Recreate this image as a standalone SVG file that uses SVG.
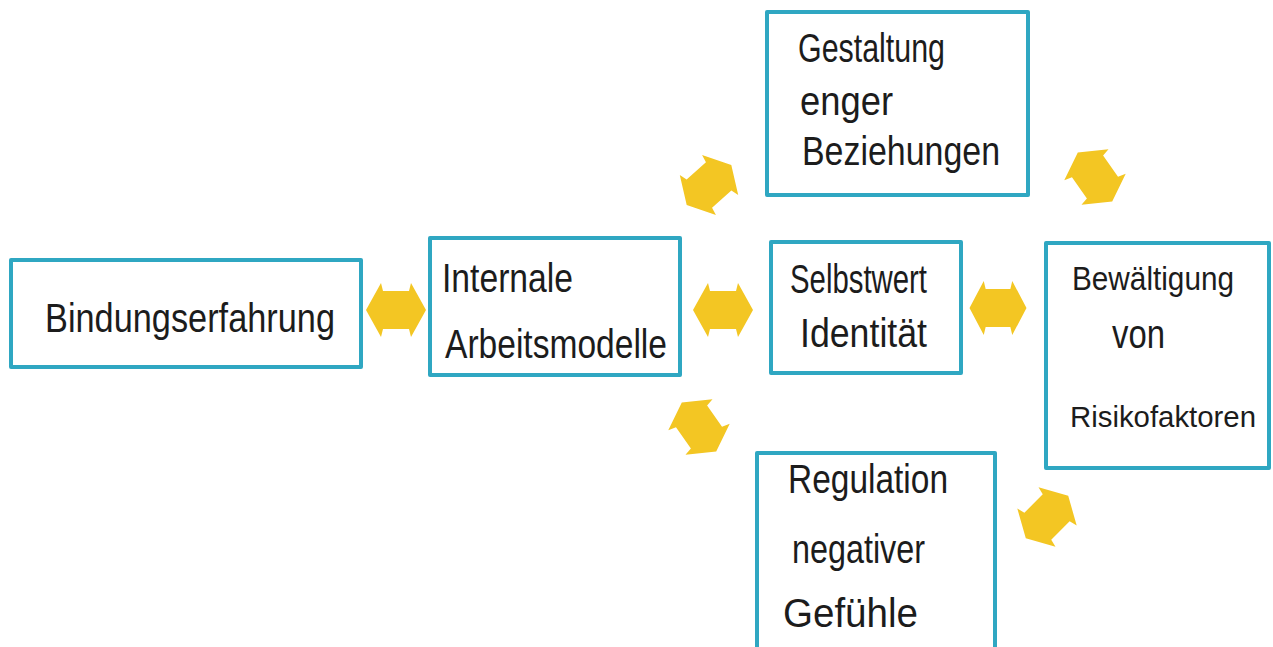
<svg xmlns="http://www.w3.org/2000/svg" width="1273" height="647" viewBox="0 0 1273 647">
<style>
.box{fill:#ffffff;stroke:#2fa7c2;stroke-width:4;stroke-linejoin:round}
.t{font-family:"Liberation Sans",Arial,sans-serif;font-size:40px;fill:#1c1c1c}
.arr{fill:#f3c623}
</style>
<defs>
<path id="dbl" d="M -30,0 L -15,-27 L -13,-19 L 13,-19 L 15,-27 L 30,0 L 15,27 L 13,19 L -13,19 L -15,27 Z"/>
</defs>
<rect width="1273" height="647" fill="#ffffff"/>
<g id="connectors" class="arr">
<use href="#dbl" transform="translate(396,310)"/>
<use href="#dbl" transform="translate(723,310)"/>
<use href="#dbl" transform="translate(998,308) scale(0.95,1)"/>
<use href="#dbl" transform="translate(709,185) rotate(-42)"/>
<use href="#dbl" transform="translate(1095,177) rotate(55)"/>
<use href="#dbl" transform="translate(699,427) rotate(55)"/>
<use href="#dbl" transform="translate(1047,517) rotate(-45)"/>
</g>
<g id="bindungserfahrung">
<rect class="box" x="11" y="260" width="350" height="107"/>
<text class="t" x="45" y="332" textLength="290" lengthAdjust="spacingAndGlyphs">Bindungserfahrung</text>
</g>
<g id="internale-arbeitsmodelle">
<rect class="box" x="430" y="238" width="250" height="137"/>
<text class="t" x="442" y="292" textLength="131" lengthAdjust="spacingAndGlyphs">Internale</text>
<text class="t" x="445" y="358" textLength="222" lengthAdjust="spacingAndGlyphs">Arbeitsmodelle</text>
</g>
<g id="selbstwert-identitaet">
<rect class="box" x="771" y="242" width="190" height="131"/>
<text class="t" x="790" y="293" textLength="137" lengthAdjust="spacingAndGlyphs">Selbstwert</text>
<text class="t" x="800" y="347" textLength="127" lengthAdjust="spacingAndGlyphs">Identität</text>
</g>
<g id="gestaltung-enger-beziehungen">
<rect class="box" x="767" y="12" width="261" height="183"/>
<text class="t" x="798" y="62" textLength="147" lengthAdjust="spacingAndGlyphs">Gestaltung</text>
<text class="t" x="800" y="115" textLength="93" lengthAdjust="spacingAndGlyphs">enger</text>
<text class="t" x="802" y="165" textLength="198" lengthAdjust="spacingAndGlyphs">Beziehungen</text>
</g>
<g id="bewaeltigung-von-risikofaktoren">
<rect class="box" x="1046" y="243" width="223" height="225"/>
<text class="t" x="1072" y="290" style="font-size:33px" textLength="162" lengthAdjust="spacingAndGlyphs">Bewältigung</text>
<text class="t" x="1112" y="348" textLength="53" lengthAdjust="spacingAndGlyphs">von</text>
<text class="t" x="1070" y="427" style="font-size:30px" textLength="186" lengthAdjust="spacingAndGlyphs">Risikofaktoren</text>
</g>
<g id="regulation-negativer-gefuehle">
<rect class="box" x="757" y="453" width="238" height="200"/>
<text class="t" x="788" y="493" textLength="160" lengthAdjust="spacingAndGlyphs">Regulation</text>
<text class="t" x="792" y="563" textLength="133" lengthAdjust="spacingAndGlyphs">negativer</text>
<text class="t" x="783" y="627" textLength="135" lengthAdjust="spacingAndGlyphs">Gefühle</text>
</g>
</svg>
